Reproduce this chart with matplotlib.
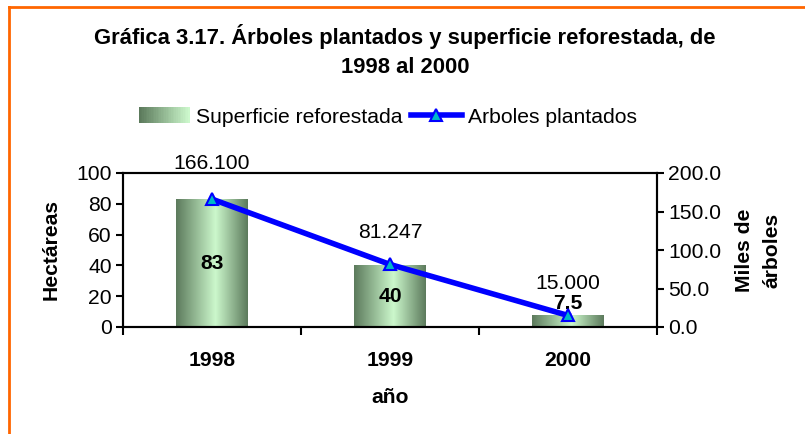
import matplotlib
matplotlib.use("Agg")
import matplotlib.pyplot as plt
import numpy as np
from matplotlib.patches import Rectangle
from matplotlib.lines import Line2D
from matplotlib.legend_handler import HandlerBase
from matplotlib.colors import LinearSegmentedColormap

plt.rcParams['font.family'] = ['Liberation Sans', 'DejaVu Sans']

years = ['1998', '1999', '2000']
superficie = [83, 40, 7.5]
superficie_labels = ['83', '40', '7.5']
arboles = [166.1, 81.247, 15.0]
arboles_labels = ['166.100', '81.247', '15.000']
left_ticks = [0, 20, 40, 60, 80, 100]
right_ticks = [0, 50, 100, 150, 200]

W, H = 805, 434
fig = plt.figure(figsize=(W/100, H/100), dpi=100)
fig.patch.set_facecolor('white')

# orange frame (top-left corner of a larger frame)
fx = lambda px: px / W
fy = lambda py: 1 - py / H
fig.add_artist(Line2D([fx(9), fx(9)], [fy(H + 5), fy(7)], transform=fig.transFigure,
                      color='#ff6600', linewidth=2))
fig.add_artist(Line2D([fx(9), fx(W + 5)], [fy(7), fy(7)], transform=fig.transFigure,
                      color='#ff6600', linewidth=2))

cmap = LinearSegmentedColormap.from_list('g', [(0, '#5c7a5c'), (0.55, '#ccf8cc'), (1.0, '#5c7a5c')])

FS = 15.2
ax = fig.add_axes([123/W, 1-327/H, (657-123)/W, (327-173)/H])
ax.set_xlim(-0.5, 2.5)
ax.set_ylim(0, 100)
x = np.arange(len(years))
bw = 0.4
grad = np.linspace(0, 1, 256).reshape(1, -1)
for xi, v in zip(x, superficie):
    ax.imshow(grad, cmap=cmap, aspect='auto', extent=[xi-bw/2, xi+bw/2, 0, v], zorder=2)
for xi, v, lab in zip(x, superficie, superficie_labels):
    if v > 20:
        ax.text(xi, v/2, lab, ha='center', va='center', fontsize=FS, fontweight='bold', zorder=5)
    else:
        ax.annotate(lab, (xi, v), xytext=(0, 12), textcoords='offset pixels',
                    ha='center', va='center', fontsize=FS, fontweight='bold', zorder=5)

ax.set_yticks(left_ticks)
ax.set_yticklabels([str(t) for t in left_ticks], fontsize=FS)
ax.set_xticks(x)
ax.set_xticklabels(years, fontsize=FS, fontweight='bold')
ax.tick_params(axis='x', length=0, pad=17)
ax.set_xticks([-0.5, 0.5, 1.5, 2.5], minor=True)
ax.tick_params(axis='x', which='minor', length=6, width=1.5, direction='out')
ax.tick_params(axis='y', length=5, width=1.5, direction='out', pad=3)
for s in ax.spines.values():
    s.set_linewidth(1.5)
ax.set_ylabel('Hectáreas', fontsize=FS, fontweight='bold', labelpad=11)
ax.set_xlabel('año', fontsize=FS, fontweight='bold', labelpad=13)

ax2 = ax.twinx()
ax2.set_ylim(0, 200)
ax2.set_xlim(-0.5, 2.5)
ax2.plot(x, arboles, color='#0000ff', linewidth=4, marker='^', markersize=8,
         markerfacecolor='#00b8c8', markeredgecolor='#0000ff', markeredgewidth=1.5, zorder=4)
offs = [36, 32, 32]
for xi, v, lab, o in zip(x, arboles, arboles_labels, offs):
    ax2.annotate(lab, (xi, v), xytext=(0, o), textcoords='offset pixels',
                 ha='center', va='center', fontsize=FS, zorder=5)
ax2.set_yticks(right_ticks)
ax2.set_yticklabels([f'{t:.1f}' for t in right_ticks], fontsize=FS)
ax2.tick_params(axis='y', length=5, width=1.5, direction='out', pad=3)
for s in ax2.spines.values():
    s.set_linewidth(1.5)
ax2.set_ylabel('Miles de\nárboles', fontsize=FS, fontweight='bold', rotation=90, labelpad=10,
               linespacing=1.55)

fig.text(405/W, 1-51/H, 'Gráfica 3.17. Árboles plantados y superficie reforestada, de\n1998 al 2000',
         ha='center', va='center', fontsize=15.8, fontweight='bold', linespacing=1.45)


class GradHandler(HandlerBase):
    def create_artists(self, legend, orig_handle, xdescent, ydescent, width, height, fontsize, trans):
        n = 30
        arts = []
        for i in range(n):
            c = cmap(0.55 * i / (n - 1))
            r = Rectangle((-xdescent + width * i / n, -ydescent), width / n + 0.3, height,
                          facecolor=c, edgecolor='none', transform=trans)
            arts.append(r)
        return arts


bar_handle = Rectangle((0, 0), 1, 1)
line_handle = Line2D([], [], color='#0000ff', linewidth=4, marker='^', markersize=8,
                     markerfacecolor='#00b8c8', markeredgecolor='#0000ff', markeredgewidth=1.5)
fig.legend([bar_handle, line_handle], ['Superficie reforestada', 'Arboles plantados'],
           handler_map={Rectangle: GradHandler()},
           loc='center', bbox_to_anchor=(388/W, 1-117/H), ncol=2, frameon=False,
           fontsize=FS, handlelength=2.4, handleheight=0.75, handletextpad=0.3, columnspacing=0.4)

fig.savefig('out.png', dpi=100)
